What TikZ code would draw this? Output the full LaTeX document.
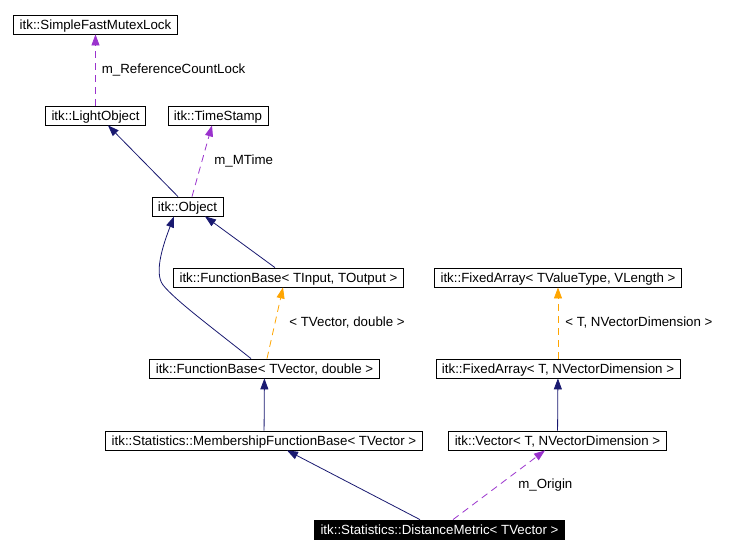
\documentclass[tikz,border=0pt]{standalone}
\usepackage{fontspec}
\setmainfont{Liberation Sans}
\usetikzlibrary{arrows.meta}
\definecolor{navy}{HTML}{191970}
\definecolor{orchid}{HTML}{9A32CD}
\definecolor{tplorange}{HTML}{FFA500}

\begin{document}
\begin{tikzpicture}[x=1pt, y=-1pt, cls/.style={draw, fill=white, line width=0.8pt, font=\fontsize{13.3}{15}\selectfont, inner xsep=6pt, inner ysep=3pt, text height=11.5pt, text depth=1.5pt}, lbl/.style={font=\fontsize{13.3}{15}\selectfont, inner sep=0pt, anchor=west}, inh/.style={draw=navy, line width=0.8pt, -{Triangle[length=11pt,width=8pt]}}, mem/.style={draw=orchid, line width=0.8pt, dash pattern=on 7pt off 5pt, -{Triangle[length=11pt,width=8pt]}}, tpl/.style={draw=tplorange, line width=0.8pt, dash pattern=on 7pt off 5pt, -{Triangle[length=11pt,width=8pt]}}]
\useasboundingbox (0,0) rectangle (732,555);
\node[cls] (sfml) at (95.5,24.5) {itk::SimpleFastMutexLock};
\node[cls] (light) at (95.5,115.5) {itk::LightObject};
\node[cls] (ts) at (218,115.5) {itk::TimeStamp};
\node[cls] (obj) at (187.5,206.5) {itk::Object};
\node[cls] (fbi) at (288.5,277.5) {itk::FunctionBase< TInput, TOutput >};
\node[cls] (fa1) at (558,277.5) {itk::FixedArray< TValueType, VLength >};
\node[cls] (fbv) at (264.5,368.5) {itk::FunctionBase< TVector, double >};
\node[cls] (fa2) at (558,368.5) {itk::FixedArray< T, NVectorDimension >};
\node[cls] (memb) at (264,440.5) {itk::Statistics::MembershipFunctionBase< TVector >};
\node[cls] (vec) at (557.5,440.5) {itk::Vector< T, NVectorDimension >};
\node[cls, fill=black, text=white] (dm) at (439.5,529.5) {itk::Statistics::DistanceMetric< TVector >};
% members and bases
\draw[mem] (light.north) -- node[lbl, xshift=6pt] {m\_ReferenceCountLock} (sfml.south);
\draw[inh] ([xshift=-9.5pt]obj.north) -- ([xshift=12.5pt]light.south);
\draw[mem] ([xshift=4.5pt]obj.north) -- node[lbl, xshift=12pt] {m\_MTime} ([xshift=-6pt]ts.south);
\draw[inh] ([xshift=-13.5pt]fbi.north) -- ([xshift=17.5pt]obj.south);
\draw[inh] ([xshift=-13.5pt]fbv.north) .. controls (210,326) and (175,300) .. (163,285) .. controls (153,272) and (165,240) .. ([xshift=-13.5pt]obj.south);
\draw[tpl] ([xshift=2.5pt]fbv.north) -- node[lbl, xshift=14pt] {< TVector, double >} ([xshift=-5.5pt]fbi.south);
\draw[tpl] (fa2) -- node[lbl, xshift=7pt] {< T, NVectorDimension >} (fa1);
\draw[inh] (memb) -- (fbv);
\draw[inh] (vec) -- (fa2);
\draw[inh] ([xshift=-19.5pt]dm.north) -- ([xshift=23pt]memb.south);
\draw[mem] ([xshift=13.5pt]dm.north) -- node[lbl, xshift=19pt] {m\_Origin} ([xshift=-12.5pt]vec.south);
\end{tikzpicture}
\end{document}
